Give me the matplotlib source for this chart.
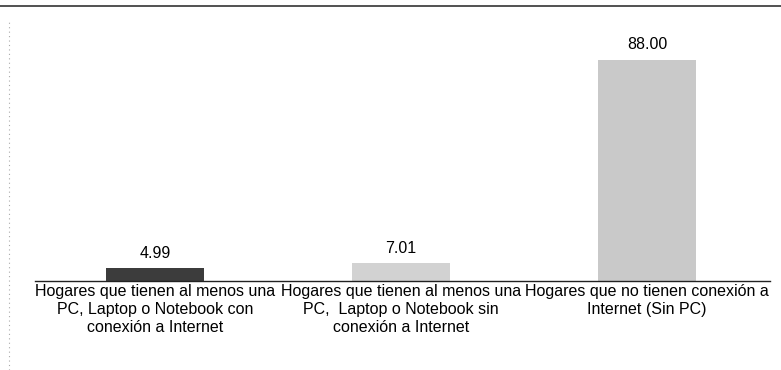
import matplotlib.pyplot as plt
from matplotlib import font_manager
from matplotlib.lines import Line2D

categorias = ["Hogares que tienen al menos una\nPC, Laptop o Notebook con\nconexión a Internet",
              "Hogares que tienen al menos una\nPC,  Laptop o Notebook sin\nconexión a Internet",
              "Hogares que no tienen conexión a\nInternet (Sin PC)"]
valores = [4.99, 7.01, 88.00]
etiquetas = ["4.99", "7.01", "88.00"]
colores = ["#3c3c3c", "#d2d2d2", "#c9c9c9"]

nombres = set(f.name for f in font_manager.fontManager.ttflist)
fam = "Liberation Sans Narrow" if "Liberation Sans Narrow" in nombres else "Liberation Sans"
plt.rcParams['font.family'] = [fam, 'DejaVu Sans']

fig = plt.figure(figsize=(7.81, 3.70), dpi=100)
ax = fig.add_axes([35/781, 1-281/370, (770-35)/781, (281-6)/370])

x = list(range(len(valores)))
ax.bar(x, valores, width=0.4, color=colores, edgecolor="none")
for i in x:
    ax.text(i, valores[i] + 3.0, etiquetas[i], ha="center", va="bottom", fontsize=11.5)

ax.set_xlim(-0.488, 2.5)
ax.set_ylim(0, 109.5)
ax.set_yticks([])
ax.set_xticks(x)
ax.set_xticklabels(categorias, fontsize=11.5, linespacing=1.25)
ax.tick_params(axis="x", length=0, pad=2)
for s in ["top", "left", "right"]:
    ax.spines[s].set_visible(False)
ax.spines["bottom"].set_color("#222222")
ax.spines["bottom"].set_linewidth(1.0)

# linea superior y linea punteada izquierda
fig.add_artist(Line2D([0, 1], [1-6/370, 1-6/370], color="#333333", lw=1.2))
fig.add_artist(Line2D([9/781, 9/781], [0, 1-20/370], color="#aaaaaa", lw=0.8, ls=(0, (1, 3))))

fig.savefig("out.png", dpi=100)
